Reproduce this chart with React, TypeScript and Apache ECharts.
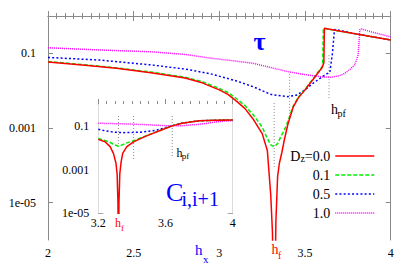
import React, { useEffect, useRef } from 'react';
import * as echarts from 'echarts';

// ---------------- data ----------------
const dzNames = ['0.0', '0.1', '0.5', '1.0'];

// main panel: tau vs h_x
const tauHx00 = [2.0, 2.2, 2.4, 2.6, 2.8, 2.9, 3.0, 3.05, 3.1, 3.15, 3.2, 3.25, 3.28, 3.30, 3.31, 3.32, 3.33, 3.34, 3.35, 3.365, 3.38, 3.40, 3.43, 3.46, 3.50, 3.55, 3.60, 3.61, 3.613, 3.7, 3.8, 3.9, 4.0];
const tau00 = [0.0589, 0.049, 0.0398, 0.0302, 0.0219, 0.0162, 0.0105, 0.00794, 0.00525, 0.00331, 0.00166, 7.08e-4, 2.51e-4, 1.58e-5, 1.58e-6, 1e-9, 3.16e-6, 5.0e-5, 1.12e-4, 2.24e-4, 5.0e-4, 1.26e-3, 3.55e-3, 6.31e-3, 0.0105, 0.0209, 0.0417, 0.0562, 0.468, 0.398, 0.331, 0.275, 0.229];

const tauHx01 = [2.0, 2.2, 2.4, 2.6, 2.8, 2.9, 3.0, 3.05, 3.1, 3.15, 3.2, 3.25, 3.28, 3.30, 3.32, 3.34, 3.36, 3.38, 3.40, 3.43, 3.46, 3.50, 3.55, 3.60, 3.603, 3.607, 3.7, 3.8, 3.9, 4.0];
const tau01 = [0.0603, 0.0501, 0.0407, 0.0316, 0.0229, 0.0174, 0.0115, 0.00891, 0.00617, 0.00398, 0.00219, 0.00105, 5.25e-4, 3.55e-4, 3.16e-4, 3.8e-4, 6.03e-4, 8.91e-4, 0.00151, 0.0038, 0.00661, 0.011, 0.0219, 0.0437, 0.0525, 0.468, 0.398, 0.331, 0.275, 0.229];

const tauHx05 = [2.0, 2.3, 2.6, 2.8, 2.95, 3.1, 3.2, 3.3, 3.4, 3.45, 3.5, 3.55, 3.6, 3.645, 3.66, 3.672, 3.8, 3.9, 4.0];
const tau05 = [0.0776, 0.0661, 0.049, 0.038, 0.0282, 0.0182, 0.0126, 0.00794, 0.00692, 0.00759, 0.0105, 0.0162, 0.0234, 0.0316, 0.1, 0.437, 0.331, 0.275, 0.229];

const tauHx10 = [2.0, 2.3, 2.6, 2.8, 2.95, 3.1, 3.2, 3.3, 3.4, 3.5, 3.6, 3.65, 3.7, 3.73, 3.76, 3.79, 3.81, 3.82, 3.83, 3.9, 4.0];
const tau10 = [0.141, 0.123, 0.11, 0.0933, 0.0741, 0.0617, 0.0537, 0.0417, 0.0324, 0.0269, 0.0234, 0.0229, 0.0251, 0.0288, 0.0363, 0.049, 0.0891, 0.427, 0.447, 0.363, 0.275];

// inset: C_{i,i+1} vs h_x
const cHx00 = [3.2, 3.24, 3.27, 3.29, 3.305, 3.312, 3.317, 3.32, 3.323, 3.328, 3.335, 3.345, 3.37, 3.41, 3.48, 3.58, 3.64, 3.7, 3.8, 3.9, 4.0];
const c00 = [0.024, 0.0186, 0.0112, 0.0055, 0.002, 6.31e-4, 3.16e-5, 1e-8, 3.16e-5, 6.31e-4, 0.002, 0.0055, 0.0112, 0.0186, 0.0331, 0.0661, 0.1, 0.132, 0.17, 0.182, 0.186];

const cHx01 = [3.2, 3.26, 3.3, 3.32, 3.34, 3.37, 3.41, 3.48, 3.58, 3.64, 3.7, 3.8, 3.9, 4.0];
const c01 = [0.0263, 0.0191, 0.0132, 0.0117, 0.0132, 0.0166, 0.0209, 0.0339, 0.0676, 0.102, 0.135, 0.17, 0.182, 0.186];

const cHx05 = [3.2, 3.25, 3.3, 3.35, 3.4, 3.45, 3.5, 3.55, 3.6, 3.65, 3.7, 3.8, 3.9, 4.0];
const c05 = [0.0692, 0.0575, 0.0513, 0.049, 0.0501, 0.0513, 0.0562, 0.0646, 0.0832, 0.107, 0.135, 0.17, 0.182, 0.186];

const cHx10 = [3.2, 3.3, 3.4, 3.5, 3.6, 3.65, 3.7, 3.75, 3.8, 3.85, 3.9, 3.95, 4.0];
const c10 = [0.132, 0.126, 0.12, 0.112, 0.102, 0.1, 0.102, 0.11, 0.117, 0.132, 0.151, 0.166, 0.174];

// dotted guide lines (h_f, intermediate, h_pf)
const guideHx = [3.32, 3.41, 3.64];
const mainGuideTop = [4.68e-3, 0.0282, 0.0891];
const mainGuideBottom = [9.1e-5, 2.24e-3, 5.62e-3];
const insetGuideTop = [0.282, 0.282, 0.282];
const insetGuideBottom = [0.0126, 2.75e-3, 3.39e-3];

// axes
const mainXTicks = [2, 4, 0.5]; // min, max, step
const insetXTicks = [3.2, 4, 0.4];
const yTickValues = [0.1, 0.001, 1e-5];
const yTickLabels = ['0.1', '0.001', '1e-05'];
const mainYRange = [1e-6, 1];
const insetYRange = [1e-5, 1];

// ---------------- style ----------------
const FONT = "'Liberation Serif', 'Times New Roman', serif";
const GRAY = '#8a8a8a';
const colors = ['#ff0000', '#00ee00', '#0000ff', '#ff00ff'];
const dashes: any[] = ['solid', [4, 2], [2, 2.2], [1, 1]];

const lg = (v: number) => Math.log10(v);
const tickLogs = yTickValues.map(lg);
const fmtY = (v: number) => {
  const i = tickLogs.findIndex((t) => Math.abs(t - v) < 1e-6);
  return i >= 0 ? yTickLabels[i] : '';
};

function lineSeries(name: string, hx: number[], vals: number[], k: number, idx: number) {
  return {
    type: 'line',
    name,
    xAxisIndex: idx,
    yAxisIndex: idx,
    data: hx.map((x, i) => [x, lg(vals[i])]),
    symbol: 'none',
    showSymbol: false,
    clip: true,
    lineStyle: { color: colors[k], width: 1.5, type: dashes[k] },
    itemStyle: { color: colors[k] },
    z: 5 - k + (idx === 2 ? 10 : 0),
  };
}

function guideSeries(hx: number, top: number, bottom: number, idx: number) {
  return {
    type: 'line',
    name: 'guide',
    xAxisIndex: idx,
    yAxisIndex: idx,
    data: [[hx, lg(top)], [hx, lg(bottom)]],
    symbol: 'none',
    clip: true,
    lineStyle: { color: GRAY, width: 1, type: [1, 2] },
    z: 1 + (idx === 2 ? 10 : 0),
  };
}

function xAxis(grid: number, r: number[], top: boolean, split: number, labelMargin: number) {
  return {
    type: 'value',
    gridIndex: grid,
    position: top ? 'top' : 'bottom',
    min: r[0],
    max: r[1],
    interval: r[2],
    axisLine: { show: true, lineStyle: { color: GRAY, width: 1 } },
    axisTick: { show: true, inside: true, length: 5, lineStyle: { color: GRAY } },
    minorTick: { show: true, splitNumber: split, length: 3, lineStyle: { color: GRAY } },
    axisLabel: { show: !top, margin: labelMargin, color: '#000', fontSize: 12, fontFamily: FONT },
    splitLine: { show: false },
  };
}

function yAxis(grid: number, range: number[], right: boolean, labelMargin: number) {
  return {
    type: 'value',
    gridIndex: grid,
    position: right ? 'right' : 'left',
    min: lg(range[0]),
    max: lg(range[1]),
    axisLine: { show: true, lineStyle: { color: GRAY, width: 1 } },
    axisTick: { show: true, inside: true, length: 5, lineStyle: { color: GRAY }, customValues: tickLogs },
    axisLabel: {
      show: !right,
      margin: labelMargin,
      color: '#000',
      fontSize: 12,
      fontFamily: FONT,
      customValues: tickLogs,
      formatter: fmtY,
    },
    splitLine: { show: false },
  };
}

function label(text: string, x: number, y: number, size: number, fill: string, align = 'left', weight = 'normal') {
  return {
    type: 'text',
    x,
    y,
    z: 100,
    style: { text, fontSize: size, fontFamily: FONT, fill, align, verticalAlign: 'middle', fontWeight: weight },
  };
}

export default function App() {
  const ref = useRef<HTMLDivElement>(null);
  useEffect(() => {
    if (!ref.current) return;
    const chart = echarts.init(ref.current, null, { renderer: 'svg' });
    const mainSets = [
      [tauHx00, tau00],
      [tauHx01, tau01],
      [tauHx05, tau05],
      [tauHx10, tau10],
    ];
    const insetSets = [
      [cHx00, c00],
      [cHx01, c01],
      [cHx05, c05],
      [cHx10, c10],
    ];
    const series: any[] = [];
    mainSets.forEach((s, k) => series.push(lineSeries(dzNames[k], s[0], s[1], k, 0)));
    insetSets.forEach((s, k) => series.push(lineSeries('C ' + dzNames[k], s[0], s[1], k, 2)));
    guideHx.forEach((x, i) => series.push(guideSeries(x, mainGuideTop[i], mainGuideBottom[i], 0)));
    guideHx.forEach((x, i) => series.push(guideSeries(x, insetGuideTop[i], insetGuideBottom[i], 2)));

    chart.setOption({
      animation: false,
      backgroundColor: '#ffffff',
      grid: [
        { left: 48, top: 16, width: 342.7, height: 224, show: false },
        { left: 98.3, top: 104, width: 134.4, height: 109.3, show: true, backgroundColor: '#ffffff', borderWidth: 0, z: 8 },
      ],
      xAxis: [
        xAxis(0, mainXTicks, false, 10, 7),
        xAxis(0, mainXTicks, true, 10, 7),
        xAxis(1, insetXTicks, false, 8, 4),
        xAxis(1, insetXTicks, true, 8, 4),
      ],
      yAxis: [
        yAxis(0, mainYRange, false, 12),
        yAxis(0, mainYRange, true, 12),
        yAxis(1, insetYRange, false, 9),
        yAxis(1, insetYRange, true, 9),
      ],
      legend: {
        data: dzNames.map((n, k) => ({
          name: n,
          lineStyle: { color: colors[k], type: dashes[k], width: 1.5, opacity: 1 },
          itemStyle: { opacity: 0 },
        })),
        orient: 'vertical',
        align: 'right',
        right: 40,
        top: 149,
        padding: 0,
        itemWidth: 39,
        itemHeight: 14,
        itemGap: 5,
        formatter: (name: string) => (name === '0.0' ? '{n|D}{s|z}{n|=0.0}' : '{n|' + name + '}'),
        textStyle: {
          fontFamily: FONT,
          fontSize: 14,
          color: '#000',
          rich: {
            n: { fontSize: 14, lineHeight: 14, fontFamily: FONT, color: '#000' },
            s: { fontSize: 10, lineHeight: 4, verticalAlign: 'bottom', fontFamily: FONT, color: '#000' },
          },
        },
      },
      graphic: [
        label('\u03c4', 259.5, 41.2, 26, '#0000ff', 'center', 'bold'),
        label('C', 166, 192.2, 26, '#0000ff'),
        label('i,i+1', 181.5, 198.5, 20, '#0000ff'),
        label('h', 195, 249.9, 15, '#0000ff'),
        label('x', 203, 258.8, 11, '#0000ff'),
        label('h', 271.5, 249.2, 14, '#ff0000'),
        label('f', 278, 255.1, 10, '#ff0000'),
        label('h', 115, 223.4, 12, '#ff0000'),
        label('f', 121, 228, 9, '#ff0000'),
        label('h', 331, 109.2, 14, '#000'),
        label('pf', 337.5, 113.6, 10, '#000'),
        label('h', 176.5, 152.6, 12, '#000'),
        label('pf', 181.7, 156.4, 9, '#000'),
      ],
      series,
    });
    return () => chart.dispose();
  }, []);
  return <div ref={ref} style={{ position: 'absolute', left: 0, top: 0, width: 415, height: 277 }} />;
}
